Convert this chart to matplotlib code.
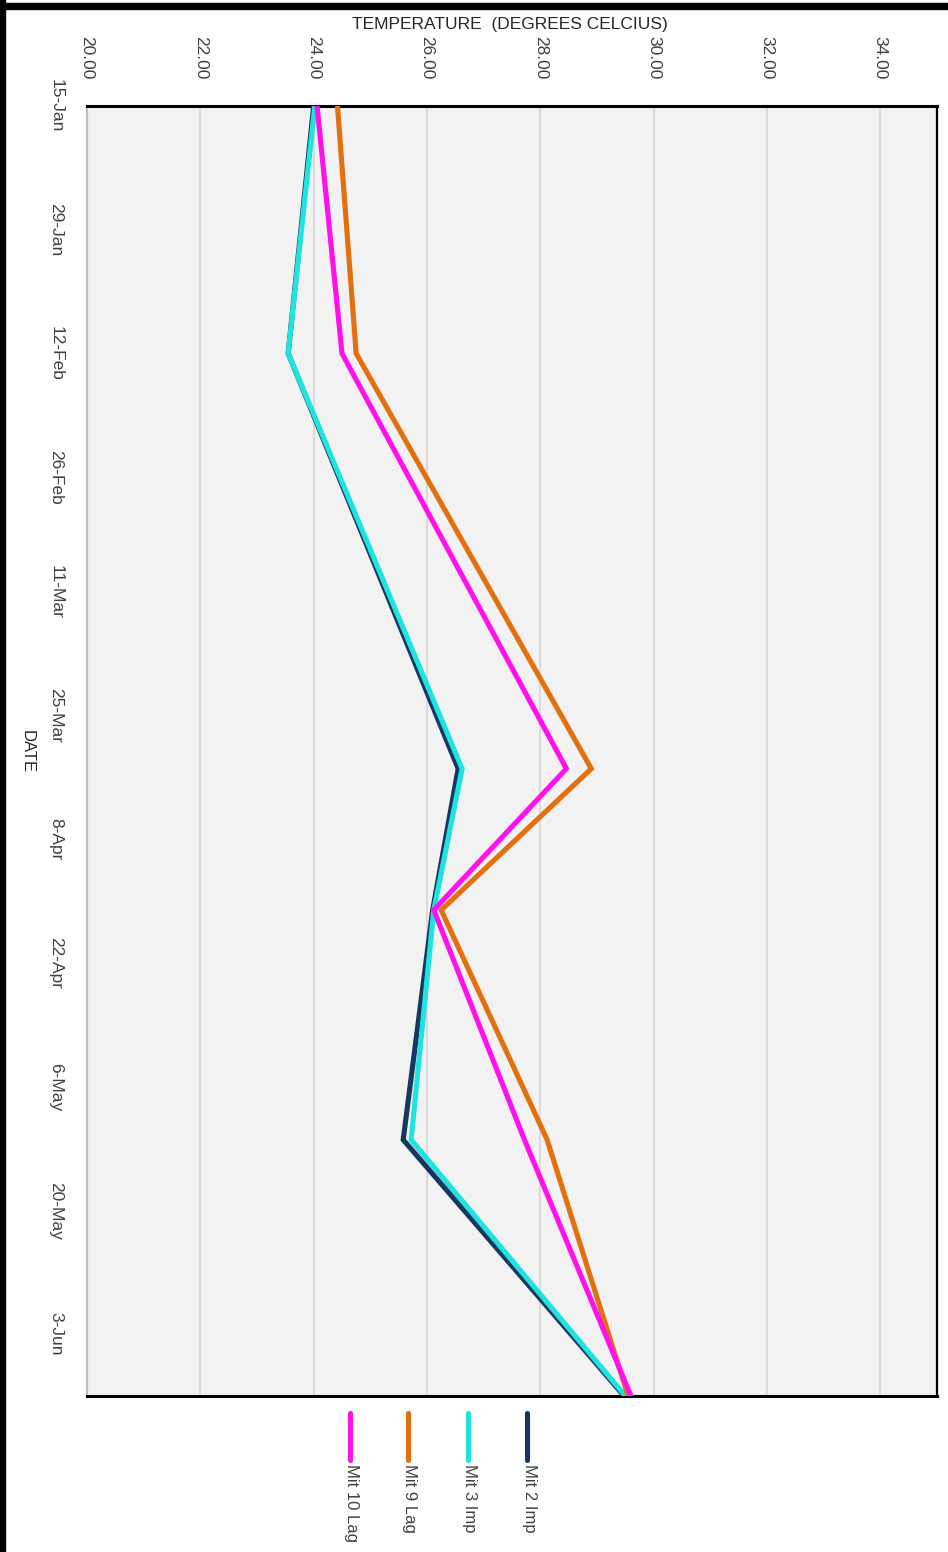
import matplotlib
matplotlib.use("Agg")
import matplotlib.pyplot as plt
from matplotlib.lines import Line2D
from matplotlib.patches import Rectangle
import pandas as pd

# ---------------- data ----------------
dates = ["2019-01-15", "2019-02-12", "2019-03-31", "2019-04-16", "2019-05-12", "2019-06-10"]
mit2_imp = [24.00, 23.55, 26.55, 26.10, 25.58, 29.48]
mit3_imp = [24.02, 23.55, 26.62, 26.12, 25.72, 29.50]
mit9_lag = [24.42, 24.75, 28.90, 26.25, 28.12, 29.55]
mit10_lag = [24.06, 24.50, 28.46, 26.12, 27.72, 29.60]
series_names = ["Mit 2 Imp", "Mit 3 Imp", "Mit 9 Lag", "Mit 10 Lag"]
series_colors = ["#17375E", "#1FE3DF", "#E2700F", "#FF10EC"]
temp_ticks = [20, 22, 24, 26, 28, 30, 32, 34]
date_tick_labels = ["15-Jan", "29-Jan", "12-Feb", "26-Feb", "11-Mar", "25-Mar",
                    "8-Apr", "22-Apr", "6-May", "20-May", "3-Jun"]

plt.rcParams['font.family'] = ['Liberation Sans', 'DejaVu Sans']

d = pd.to_datetime(dates)
date_ticks = pd.to_datetime([s + "-2019" for s in date_tick_labels], format="%d-%b-%Y")

fig = plt.figure(figsize=(9.48, 15.52), dpi=100)
W, H = 948, 1552

def fx(px):
    return px / W

def fy(py):
    return 1 - py / H

ax = fig.add_axes([fx(87), fy(1396), fx(937) - fx(87), fy(106) - fy(1396)])
ax.set_facecolor("#F2F2F2")

series = [mit2_imp, mit3_imp, mit9_lag, mit10_lag]
for vals, col in zip(series, series_colors):
    ax.plot(vals, d, color=col, lw=3.7, solid_joinstyle="miter", zorder=3)

ax.set_xlim(20, 35)
ax.set_ylim(d[-1], d[0])
ax.set_xticks(temp_ticks)
ax.set_xticklabels([f"{t:.2f}" for t in temp_ticks], rotation=-90, fontsize=12.5, color="#404040")
ax.xaxis.tick_top()
ax.tick_params(axis="x", length=0, pad=19)
ax.set_yticks(date_ticks)
ax.set_yticklabels(date_tick_labels, rotation=-90, fontsize=12.5, color="#404040", va="center")
ax.tick_params(axis="y", length=0, pad=17)
ax.xaxis.grid(True, color="#D6D6D6", lw=1.2, zorder=0)
ax.set_axisbelow(True)

for side, col, lw in [("top", "black", 2.2), ("bottom", "black", 2.2),
                      ("right", "black", 1.6), ("left", "#BFBFBF", 1.6)]:
    ax.spines[side].set_color(col)
    ax.spines[side].set_linewidth(lw)

fig.text(fx(510), fy(25), "TEMPERATURE  (DEGREES CELCIUS)", ha="center", va="center",
         fontsize=12.5, color="#262626")
fig.text(fx(27), fy(752), "DATE", ha="center", va="center", rotation=-90,
         fontsize=12, color="#262626")

# legend (rotated)
leg_x = [527, 468, 408, 350]
for name, col, x in zip(series_names, series_colors, leg_x):
    fig.add_artist(Line2D([fx(x), fx(x)], [fy(1413), fy(1460)], color=col, lw=3.7,
                          solid_capstyle="round", transform=fig.transFigure))
    fig.text(fx(x + 2), fy(1464), name, rotation=-90, ha="center", va="top",
             fontsize=12, color="#404040")

# outer frame fragments
fig.add_artist(Rectangle((0, fy(9)), 1, fy(3) - fy(9), color="black",
                         transform=fig.transFigure))
fig.add_artist(Rectangle((0, 0), fx(5), 1, color="black", transform=fig.transFigure))

fig.savefig("out.png", dpi=100)
